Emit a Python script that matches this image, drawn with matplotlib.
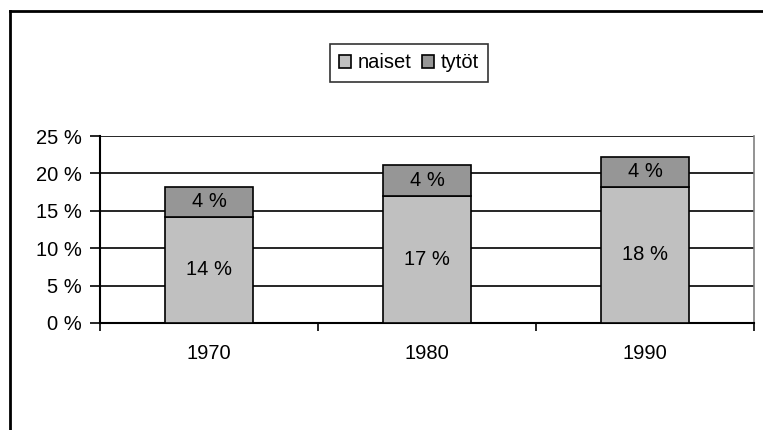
import matplotlib.pyplot as plt
from matplotlib.lines import Line2D
from matplotlib.ticker import FixedLocator, FuncFormatter

years = ["1970", "1980", "1990"]
naiset = [14.2, 17.0, 18.2]
tytot = [4.0, 4.1, 4.0]
naiset_labels = ["14 %", "17 %", "18 %"]
tytot_labels = ["4 %", "4 %", "4 %"]

plt.rcParams["font.family"] = ["Liberation Sans", "DejaVu Sans"]
plt.rcParams["font.size"] = 14.5

fig = plt.figure(figsize=(7.63, 4.30), dpi=100)
ax = fig.add_axes([100 / 763, 1 - 323 / 430, 654 / 763, 187 / 430])

x = list(range(len(years)))
b1 = ax.bar(x, naiset, width=0.4, color="#c0c0c0", edgecolor="black",
            linewidth=1.2, label="naiset", zorder=3)
b2 = ax.bar(x, tytot, width=0.4, bottom=naiset, color="#969696",
            edgecolor="black", linewidth=1.2, label="tytöt", zorder=3)
ax.bar_label(b1, labels=naiset_labels, label_type="center", fontsize=14.5)
ax.bar_label(b2, labels=tytot_labels, label_type="center", fontsize=14.5)

ax.set_xlim(-0.5, 2.5)
ax.set_ylim(0, 25)
ax.set_yticks([0, 5, 10, 15, 20, 25])
ax.yaxis.set_major_formatter(FuncFormatter(lambda v, p: f"{int(v)} %"))
ax.yaxis.grid(True, color="black", linewidth=1.2, zorder=0)
ax.tick_params(axis="y", direction="out", length=7, width=1.2, pad=6)

# category boundaries carry the tick marks, centres carry the labels
ax.xaxis.set_major_locator(FixedLocator([-0.5, 0.5, 1.5, 2.5]))
ax.xaxis.set_major_formatter(FuncFormatter(lambda v, p: ""))
ax.xaxis.set_minor_locator(FixedLocator(x))
ax.xaxis.set_minor_formatter(FuncFormatter(lambda v, p: years[int(round(v))]))
ax.tick_params(axis="x", which="major", direction="out", length=6, width=1.2)
ax.tick_params(axis="x", which="minor", length=0, pad=15)

for s in ["left", "bottom"]:
    ax.spines[s].set_linewidth(1.5)
ax.spines["top"].set_visible(False)
ax.spines["right"].set_color("#808080")
ax.spines["right"].set_linewidth(1.2)

leg = ax.legend(loc="center", bbox_to_anchor=(409 / 763, 1 - 63 / 430),
                bbox_transform=fig.transFigure, ncol=2, frameon=True,
                fancybox=False, edgecolor="black", handlelength=0.6,
                handleheight=0.6, handletextpad=0.35, columnspacing=0.5,
                borderpad=0.45, borderaxespad=0, fontsize=14.5)
leg.get_frame().set_linewidth(1.2)

# outer chart border (cut off at right and bottom)
fig.add_artist(Line2D([10 / 763, 10 / 763], [0, 1 - 11 / 430],
                      transform=fig.transFigure, color="black", linewidth=2))
fig.add_artist(Line2D([10 / 763, 1], [1 - 11 / 430, 1 - 11 / 430],
                      transform=fig.transFigure, color="black", linewidth=2))

fig.savefig("out.png", dpi=100)
